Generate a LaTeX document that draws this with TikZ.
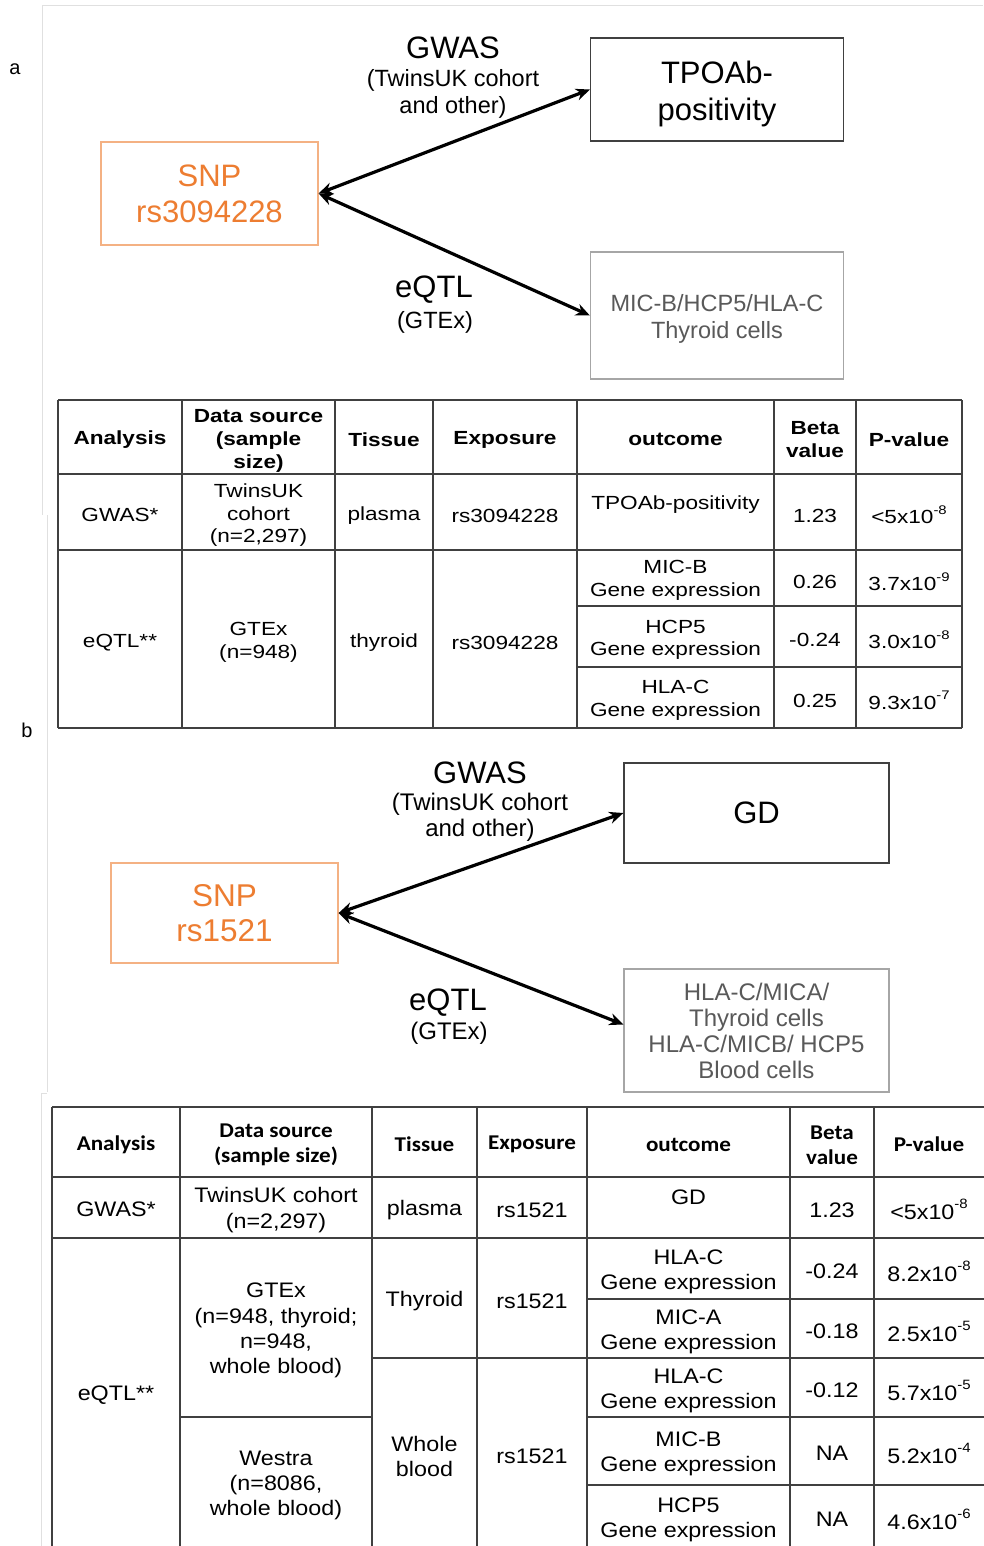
\documentclass[tikz,border=0pt]{standalone}
\usepackage{fontspec}
\setmainfont{Liberation Sans}
\newfontfamily\tA[FakeStretch=1.19]{Liberation Sans}
\newfontfamily\tB[FakeStretch=1.11]{Liberation Sans}
\newfontfamily\tBh[FakeStretch=1.1]{Carlito}
\usetikzlibrary{arrows.meta}
\definecolor{snporange}{HTML}{ED7D31}
\definecolor{snpborder}{HTML}{F4B183}
\definecolor{graytext}{HTML}{595959}
\definecolor{grayborder}{HTML}{A6A6A6}
\definecolor{tline}{HTML}{404040}
\newcommand\supx[1]{\raisebox{0.5em}{\fontsize{12.5}{12.5}\selectfont #1}}
\newcommand\supy[1]{\raisebox{0.5em}{\fontsize{13.5}{13.5}\selectfont #1}}
\tikzset{
  lab/.style={inner sep=0, align=center, yshift=-2pt},
  bigt/.style={lab, font=\fontsize{31}{37}\selectfont},
  midt/.style={lab, font=\fontsize{23.5}{27}\selectfont},
  darkbox/.style={draw=tline, line width=1.3pt, inner sep=0, align=center, font=\fontsize{31}{37}\selectfont},
  snpbox/.style={draw=snpborder, line width=1.3pt, text=snporange, inner sep=0, align=center, font=\fontsize{31}{36}\selectfont},
  graybox/.style={draw=grayborder, line width=1.3pt, text=graytext, inner sep=0, align=center},
  arr/.style={line width=3.2pt, {Stealth[length=14pt,width=12pt]}-{Stealth[length=14pt,width=12pt]}},
  cellA/.style={lab, yshift=-0.5pt, font=\tA\fontsize{19}{22.5}\selectfont},
  hdrA/.style={lab, yshift=-0.5pt, font=\tA\bfseries\fontsize{19}{23}\selectfont},
  cellB/.style={lab, yshift=-0.5pt, font=\tB\fontsize{21}{25.3}\selectfont},
  hdrB/.style={lab, yshift=-0.5pt, font=\tBh\bfseries\fontsize{21}{25}\selectfont},
  tl/.style={draw=tline, line width=1.5pt},
  faint/.style={draw=black!12, line width=1pt}
}
\begin{document}
\begin{tikzpicture}[x=1pt,y=-1pt]
\useasboundingbox[fill=white] (0,0) rectangle (983,1546);
% faint frame remnants
\draw[faint] (42,6) -- (983,6);
\draw[faint] (42,6) -- (42,515);
\draw[faint] (47,515) -- (47,1092);
\draw[faint] (41,1546) -- (41,1093) -- (47,1093);

% ---------- part a ----------
\node[lab, font=\fontsize{20}{24}\selectfont] (la) at (15,67) {a};
\node[bigt] (gwasA) at (453,46) {GWAS};
\node[midt] (gwasAsub) at (453,91.5) {(TwinsUK cohort\\and other)};
\node[darkbox, minimum width=253, minimum height=103] (tpo) at (717,89.5) {};
\node[bigt, yshift=-2pt] (tpotext) at (tpo.center) {TPOAb-\\positivity};
\node[snpbox, minimum width=217, minimum height=103] (snpA) at (209.5,193.5) {SNP\\rs3094228};
\node[graybox, minimum width=253, minimum height=127] (lowA) at (717,315.5) {};
\node[midt, yshift=-1pt, text=graytext] (lowAtext) at (lowA.center) {MIC-B/HCP5/HLA-C\\Thyroid cells};
\node[bigt] (eqtlA) at (434,288) {eQTL};
\node[midt] (eqtlAsub) at (435,320) {(GTEx)};
\draw[arr] (snpA.east) -- (tpo.west);
\draw[arr] (snpA.east) -- (lowA.west);

% ---------- table 1 ----------
\foreach \y in {400,474,550,728} \draw[tl] (58,\y) -- (962,\y);
\foreach \y in {606,667} \draw[tl] (577,\y) -- (962,\y);
\foreach \x in {58,182,335,433,577,774,856,962} \draw[tl] (\x,400) -- (\x,728);

\node[hdrA] (t1h1) at (120,437) {Analysis};
\node[hdrA] (t1h2) at (258.5,438) {Data source\\(sample\\size)};
\node[hdrA] (t1h3) at (384,437) {Tissue};
\node[hdrA] (t1h4) at (505,437) {Exposure};
\node[hdrA] (t1h5) at (675.5,437) {outcome};
\node[hdrA] (t1h6) at (815,437.5) {Beta\\value};
\node[hdrA] (t1h7) at (909,437) {P-value};

\node[cellA] (t1g1) at (120,512) {GWAS*};
\node[cellA] (t1g2) at (258.5,513) {TwinsUK\\cohort\\(n=2,297)};
\node[cellA] (t1g3) at (384,513) {plasma};
\node[cellA] (t1g4) at (505,513) {rs3094228};
\node[cellA] (t1g5) at (675.5,502) {TPOAb-positivity};
\node[cellA] (t1g6) at (815,513) {1.23};
\node[cellA] (t1g7) at (909,512) {<5x10\supx{-8}};

\node[cellA] (t1e1) at (120,640) {eQTL**};
\node[cellA] (t1e2) at (258.5,640) {GTEx\\(n=948)};
\node[cellA] (t1e3) at (384,640) {thyroid};
\node[cellA] (t1e4) at (505,640) {rs3094228};
\node[cellA] (t1o1) at (675.5,578) {MIC-B\\Gene expression};
\node[cellA] (t1b1) at (815,579) {0.26};
\node[cellA] (t1p1) at (909,579) {3.7x10\supx{-9}};
\node[cellA] (t1o2) at (675.5,637.5) {HCP5\\Gene expression};
\node[cellA] (t1b2) at (815,637) {-0.24};
\node[cellA] (t1p2) at (909,637) {3.0x10\supx{-8}};
\node[cellA] (t1o3) at (675.5,698) {HLA-C\\Gene expression};
\node[cellA] (t1b3) at (815,698) {0.25};
\node[cellA] (t1p3) at (909,698) {9.3x10\supx{-7}};

% ---------- part b ----------
\node[lab, font=\fontsize{20}{24}\selectfont] (lb) at (27,728) {b};
\node[bigt] (gwasB) at (480,771) {GWAS};
\node[lab, font=\fontsize{24}{26}\selectfont] (gwasBsub) at (480,815) {(TwinsUK cohort\\and other)};
\node[darkbox, minimum width=265, minimum height=100] (gd) at (756.5,813) {GD};
\node[snpbox, minimum width=227, minimum height=100, font=\fontsize{31.5}{35}\selectfont] (snpB) at (224.5,913) {SNP\\rs1521};
\node[graybox, minimum width=265, minimum height=123, font=\fontsize{24}{26}\selectfont] (lowB) at (756.5,1030.5) {HLA-C/MICA/\\Thyroid cells\\HLA-C/MICB/ HCP5\\Blood cells};
\node[bigt] (eqtlB) at (448,1001) {eQTL};
\node[lab, font=\fontsize{24}{28}\selectfont] (eqtlBsub) at (449,1031) {(GTEx)};
\draw[arr] (snpB.east) -- (gd.west);
\draw[arr] (snpB.east) -- ([yshift=6pt]lowB.west);

% ---------- table 2 ----------
\foreach \y in {1107,1177,1238} \draw[tl] (52,\y) -- (995,\y);
\foreach \y in {1299,1485} \draw[tl] (587,\y) -- (995,\y);
\draw[tl] (372,1358) -- (995,1358);
\draw[tl] (180,1417) -- (372,1417);
\draw[tl] (587,1417) -- (995,1417);
\foreach \x in {52,180,372,477,587,790,874} \draw[tl] (\x,1107) -- (\x,1560);

\node[hdrB] (t2h1) at (116,1142) {Analysis};
\node[hdrB] (t2h2) at (276,1142.5) {Data source\\(sample size)};
\node[hdrB] (t2h3) at (424.5,1142) {Tissue};
\node[hdrB] (t2h4) at (532,1142) {Exposure};
\node[hdrB] (t2h5) at (688.5,1142) {outcome};
\node[hdrB] (t2h6) at (832,1142.5) {Beta\\value};
\node[hdrB] (t2h7) at (929,1142) {P-value};

\node[cellB] (t2g1) at (116,1207) {GWAS*};
\node[cellB] (t2g2) at (276,1207.5) {TwinsUK cohort\\(n=2,297)};
\node[cellB] (t2g3) at (424.5,1208) {plasma};
\node[cellB] (t2g4) at (532,1208) {rs1521};
\node[cellB] (t2g5) at (688.5,1195) {GD};
\node[cellB] (t2g6) at (832,1208) {1.23};
\node[cellB] (t2g7) at (929,1207) {<5x10\supy{-8}};

\node[cellB] (t2e1) at (116,1393) {eQTL**};
\node[cellB] (t2d1) at (276,1328) {GTEx\\(n=948, thyroid;\\n=948,\\whole blood)};
\node[cellB] (t2d2) at (276,1483) {Westra\\(n=8086,\\whole blood)};
\node[cellB] (t2s1) at (424.5,1299) {Thyroid};
\node[cellB] (t2s2) at (424.5,1454) {Whole\\blood};
\node[cellB] (t2x1) at (532,1299) {rs1521};
\node[cellB] (t2x2) at (532,1454) {rs1521};

\node[cellB] (t2o1) at (688.5,1269) {HLA-C\\Gene expression};
\node[cellB] (t2b1) at (832,1269) {-0.24};
\node[cellB] (t2p1) at (929,1269) {8.2x10\supy{-8}};
\node[cellB] (t2o2) at (688.5,1329) {MIC-A\\Gene expression};
\node[cellB] (t2b2) at (832,1329) {-0.18};
\node[cellB] (t2p2) at (929,1329) {2.5x10\supy{-5}};
\node[cellB] (t2o3) at (688.5,1388.5) {HLA-C\\Gene expression};
\node[cellB] (t2b3) at (832,1388) {-0.12};
\node[cellB] (t2p3) at (929,1388) {5.7x10\supy{-5}};
\node[cellB] (t2o4) at (688.5,1451.5) {MIC-B\\Gene expression};
\node[cellB] (t2b4) at (832,1451) {NA};
\node[cellB] (t2p4) at (929,1451) {5.2x10\supy{-4}};
\node[cellB] (t2o5) at (688.5,1517.5) {HCP5\\Gene expression};
\node[cellB] (t2b5) at (832,1517) {NA};
\node[cellB] (t2p5) at (929,1517) {4.6x10\supy{-6}};
\end{tikzpicture}
\end{document}
